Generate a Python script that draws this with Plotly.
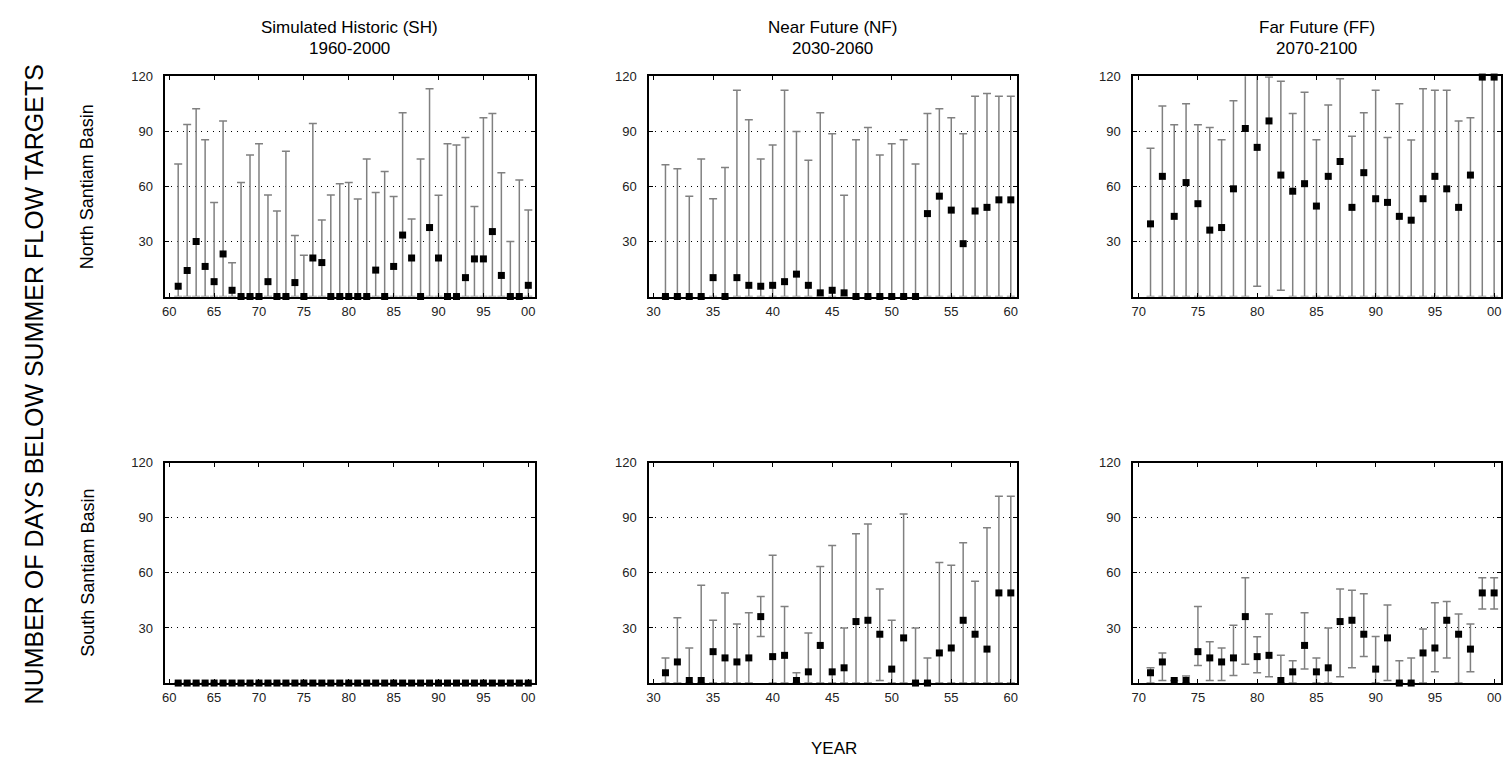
import plotly.graph_objects as go

W, H = 1504, 764

# ---------------- data ----------------
years_sh = list(range(1961, 2001))
years_nf = list(range(2031, 2061))
years_ff = list(range(2071, 2101))

north_sh_val = [5.6, 14.2, 30.0, 16.4, 8.1, 23.2, 3.4, 0, 0, 0, 8.1, 0, 0, 7.6, 0, 21.0, 18.5, 0, 0, 0,
                0, 0, 14.4, 0, 16.4, 33.5, 21.0, 0, 37.6, 21.0, 0, 0, 10.3, 20.5, 20.5, 35.4, 11.5, 0, 0, 6.1]
north_sh_up = [72.3, 93.7, 102.4, 85.5, 51.3, 95.7, 18.4, 62.1, 77.2, 83.3, 55.4, 46.6, 79.2, 33.3, 22.5, 94.3, 41.7, 55.4, 61.5, 62.1,
               53.1, 75.0, 56.7, 68.2, 54.5, 100.2, 42.3, 75.0, 113.3, 55.2, 83.3, 82.6, 86.7, 49.1, 97.5, 99.7, 67.5, 30.0, 63.5, 47.1]
north_sh_lo = [0] * 40

north_nf_val = [0, 0, 0, 0, 10.3, 0, 10.3, 6.1, 5.6, 6.1, 8.1, 12.2, 6.1, 2.0, 3.4, 2.0, 0, 0, 0, 0, 0, 0,
                45.2, 54.7, 47.1, 28.8, 46.6, 48.6, 52.7, 52.7]
north_nf_up = [71.8, 69.6, 54.7, 75.0, 53.3, 70.3, 112.4, 96.4, 75.0, 82.6, 112.4, 90.0, 74.3, 100.2, 88.7, 55.2,
               85.5, 92.1, 77.2, 83.3, 85.5, 72.3, 99.7, 102.4, 97.5, 88.7, 109.2, 110.7, 109.2, 109.2]
north_nf_lo = [0] * 30

north_ff_val = [39.6, 65.5, 43.7, 62.1, 50.6, 36.2, 37.6, 58.7, 91.6, 81.3, 95.7, 66.2, 57.4, 61.5, 49.3,
                65.5, 73.6, 48.6, 67.5, 53.3, 51.3, 43.7, 41.6, 53.3, 65.5, 58.7, 48.6, 66.2, 119.6, 119.6]
north_ff_up = [80.8, 103.8, 93.6, 105.1, 93.6, 92.1, 85.5, 106.7, 130.0, 130.0, 119.6, 117.3, 99.7, 111.4, 85.5,
               104.4, 118.7, 87.3, 100.2, 112.4, 86.7, 105.1, 85.3, 113.3, 112.4, 112.4, 95.7, 97.5, 130.0, 130.0]
north_ff_lo = [0, 0, 0, 0, 0, 0, 0, 0, 0, 5.6, 0, 3.4, 0, 0, 0,
               0, 0, 0, 0, 0, 0, 0, 0, 0, 0, 0, 0, 0, 0, 0]

south_sh_val = [0] * 40
south_sh_up = [0] * 40
south_sh_lo = [0] * 40

south_nf_val = [5.6, 11.5, 1.4, 1.4, 17.1, 13.7, 11.5, 13.7, 36.2, 14.4, 15.1, 1.4, 6.1, 20.5, 6.1,
                8.3, 33.5, 34.2, 26.6, 7.6, 24.6, 0, 0, 16.4, 19.1, 34.2, 26.6, 18.5, 49.1, 49.1]
south_nf_up = [13.7, 35.6, 19.1, 53.3, 34.2, 49.1, 32.2, 38.3, 47.1, 69.6, 41.7, 5.6, 27.3, 63.5, 75.0,
               30.0, 81.3, 86.7, 51.3, 34.2, 92.1, 30.0, 13.7, 65.7, 64.2, 76.5, 55.4, 84.6, 101.8, 101.8]
south_nf_lo = [0, 0, 0, 0, 0, 0, 0, 0, 25.4, 0, 0, 0, 0, 0, 0,
               0, 0, 0, 1.4, 0, 0, 0, 0, 0, 0, 0, 0, 0, 0, 0]

south_ff_val = [5.6, 11.5, 1.4, 1.4, 17.1, 13.7, 11.5, 13.7, 36.2, 14.4, 15.1, 1.4, 6.1, 20.5, 6.1,
                8.3, 33.5, 34.2, 26.6, 7.6, 24.6, 0, 0, 16.4, 19.1, 34.2, 26.6, 18.5, 49.1, 49.1]
south_ff_up = [8.3, 16.4, 1.4, 3.8, 41.7, 22.5, 19.1, 31.5, 57.4, 25.2, 37.6, 15.1, 12.2, 38.3, 13.7,
               30.0, 51.3, 50.6, 48.6, 25.4, 42.5, 12.2, 13.7, 29.5, 43.7, 44.4, 37.6, 32.2, 57.4, 57.4]
south_ff_lo = [0, 1.4, 1.4, 0, 9.5, 1.4, 1.4, 4.1, 10.3, 5.6, 3.4, 0, 0, 7.6, 0,
               0, 3.4, 8.3, 14.4, 0, 1.4, 0, 0, 0, 6.1, 13.7, 0, 6.1, 40.3, 40.3]

sh_ticks = [1960, 1965, 1970, 1975, 1980, 1985, 1990, 1995, 2000]
sh_ticktext = ["60", "65", "70", "75", "80", "85", "90", "95", "00"]
nf_ticks = [2030, 2035, 2040, 2045, 2050, 2055, 2060]
nf_ticktext = ["30", "35", "40", "45", "50", "55", "60"]
ff_ticks = [2070, 2075, 2080, 2085, 2090, 2095, 2100]
ff_ticktext = ["70", "75", "80", "85", "90", "95", "00"]

y_ticks = [30, 60, 90, 120]
y_ticktext = ["30", "60", "90", "120"]

col_titles = ["Simulated Historic (SH)", "Near Future (NF)", "Far Future (FF)"]
col_periods = ["1960-2000", "2030-2060", "2070-2100"]
row_titles = ["North Santiam Basin", "South Santiam Basin"]
y_title = "NUMBER OF DAYS BELOW SUMMER FLOW TARGETS"
x_title = "YEAR"

# ---------------- layout geometry (pixels) ----------------
col_px = [(162.7, 533.0), (647.7, 1016.7), (1133.0, 1502.0)]
row_px = [(70.0, 292.2), (460.0, 682.3)]
x_ranges = [[1959.56, 2000.7], [2029.615, 2060.52], [2069.52, 2100.58]]

FONT = "Liberation Sans, Arial, sans-serif"
BAR_COLOR = "#808080"

fig = go.Figure()

panels = [
    (0, 0, years_sh, north_sh_val, north_sh_up, north_sh_lo, sh_ticks, sh_ticktext),
    (0, 1, years_nf, north_nf_val, north_nf_up, north_nf_lo, nf_ticks, nf_ticktext),
    (0, 2, years_ff, north_ff_val, north_ff_up, north_ff_lo, ff_ticks, ff_ticktext),
    (1, 0, years_sh, south_sh_val, south_sh_up, south_sh_lo, sh_ticks, sh_ticktext),
    (1, 1, years_nf, south_nf_val, south_nf_up, south_nf_lo, nf_ticks, nf_ticktext),
    (1, 2, years_ff, south_ff_val, south_ff_up, south_ff_lo, ff_ticks, ff_ticktext),
]

for i, (r, c, yrs, val, up, lo, tv, tt) in enumerate(panels):
    n = i + 1
    xa = "x" if n == 1 else f"x{n}"
    ya = "y" if n == 1 else f"y{n}"
    plus = [u - v for u, v in zip(up, val)]
    minus = [v - l for v, l in zip(val, lo)]
    # error bars (clipped to the plot area)
    fig.add_trace(go.Scatter(
        x=yrs, y=val, mode="markers", xaxis=xa, yaxis=ya,
        marker=dict(size=1, color="rgba(0,0,0,0)"),
        error_y=dict(type="data", symmetric=False, array=plus, arrayminus=minus,
                     color=BAR_COLOR, thickness=1.5, width=4),
        cliponaxis=True, showlegend=False, hoverinfo="skip"))
    # markers
    fig.add_trace(go.Scatter(
        x=yrs, y=val, mode="markers", xaxis=xa, yaxis=ya,
        marker=dict(symbol="square", size=7, color="black", line=dict(width=0)),
        cliponaxis=False, showlegend=False))

    x0, x1 = col_px[c]
    y0, y1 = row_px[r]
    xkey = "xaxis" if n == 1 else f"xaxis{n}"
    ykey = "yaxis" if n == 1 else f"yaxis{n}"
    fig.layout[xkey] = dict(
        domain=[x0 / W, x1 / W], anchor=ya, range=x_ranges[c],
        tickvals=tv, ticktext=tt, ticks="inside", ticklen=4, tickwidth=1, tickcolor="black",
        showline=True, linecolor="black", linewidth=1.5, mirror="ticks",
        showgrid=False, zeroline=False, fixedrange=True, ticklabelstandoff=2,
        tickfont=dict(family=FONT, size=13, color="#222"))
    fig.layout[ykey] = dict(
        domain=[1 - y1 / H, 1 - y0 / H], anchor=xa, range=[0, 120],
        tickvals=y_ticks, ticktext=y_ticktext, ticks="inside", ticklen=4, tickwidth=1, tickcolor="black",
        showline=True, linecolor="black", linewidth=1.5, mirror="ticks",
        showgrid=True, gridcolor="black", gridwidth=1, griddash="1px,5px",
        zeroline=False, fixedrange=True, ticklabelstandoff=8,
        tickfont=dict(family=FONT, size=13, color="#222"))

annotations = []
for c in range(3):
    cx = (col_px[c][0] + col_px[c][1]) / 2 / W
    annotations.append(dict(text=col_titles[c], x=cx, y=1 - 21 / H, xref="paper", yref="paper",
                            showarrow=False, xanchor="center", yanchor="middle",
                            font=dict(family=FONT, size=17, color="black")))
    annotations.append(dict(text=col_periods[c], x=cx, y=1 - 42 / H, xref="paper", yref="paper",
                            showarrow=False, xanchor="center", yanchor="middle",
                            font=dict(family=FONT, size=17, color="black")))
for r in range(2):
    cy = 1 - (row_px[r][0] + row_px[r][1]) / 2 / H
    annotations.append(dict(text=row_titles[r], x=85 / W, y=cy, xref="paper", yref="paper",
                            showarrow=False, xanchor="center", yanchor="middle", textangle=-90,
                            font=dict(family=FONT, size=18, color="black")))
annotations.append(dict(text=y_title, x=31 / W, y=1 - 381 / H, xref="paper", yref="paper",
                        showarrow=False, xanchor="center", yanchor="middle", textangle=-90,
                        font=dict(family=FONT, size=25, color="black")))
annotations.append(dict(text=x_title, x=833 / W, y=1 - 748 / H, xref="paper", yref="paper",
                        showarrow=False, xanchor="center", yanchor="middle",
                        font=dict(family=FONT, size=17, color="black")))

fig.update_layout(
    width=W, height=H, margin=dict(l=0, r=0, t=0, b=0),
    paper_bgcolor="white", plot_bgcolor="white",
    showlegend=False, annotations=annotations,
    font=dict(family=FONT),
)

fig.write_html("out.html", config={"displayModeBar": False})
